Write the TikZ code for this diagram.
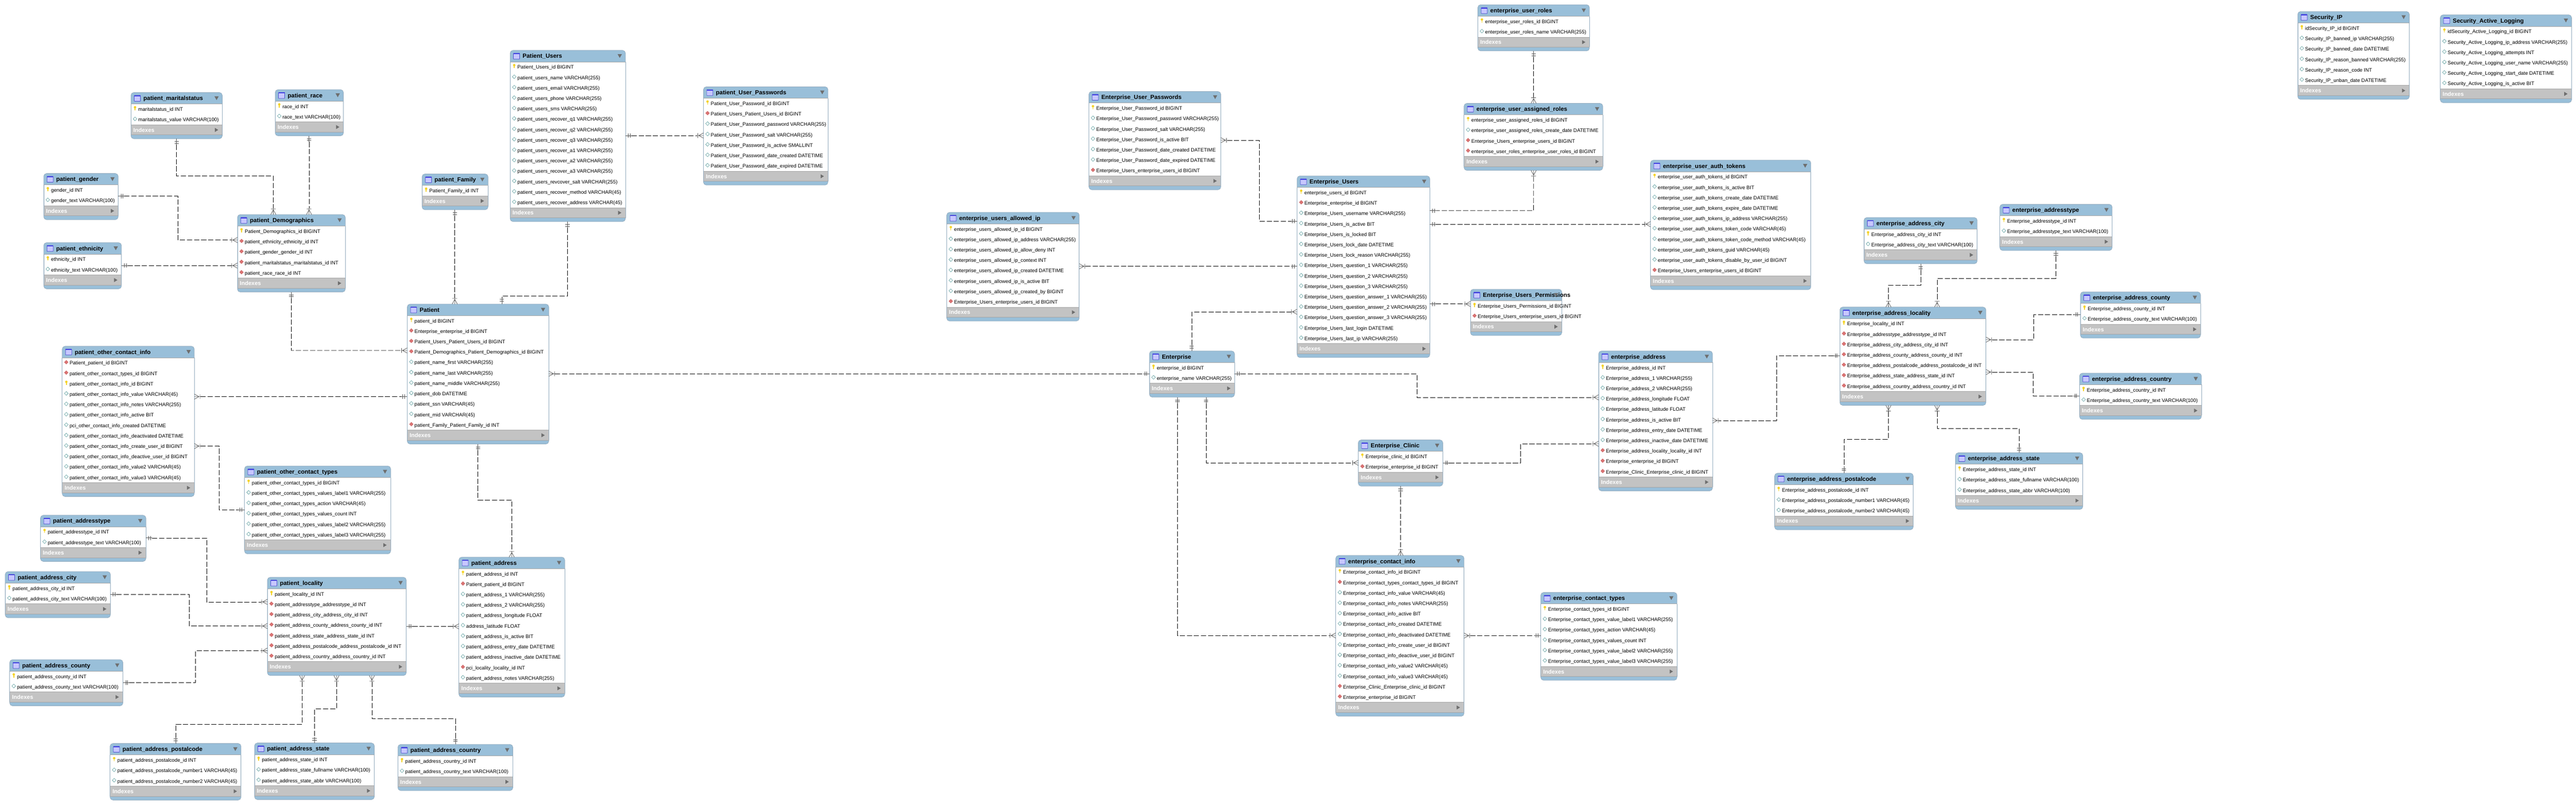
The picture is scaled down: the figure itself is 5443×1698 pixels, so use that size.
\documentclass[tikz,border=0pt]{standalone}
\usepackage{fontspec}
\setmainfont{Liberation Sans}
\catcode`\_=12
\definecolor{hdr}{HTML}{99BFD9}
\definecolor{band}{HTML}{C3C3C3}
\definecolor{rule}{HTML}{A6A6A6}
\definecolor{edge}{HTML}{93ABBE}
\definecolor{tri}{HTML}{6E6E6E}
\definecolor{keyc}{HTML}{F5D327}
\definecolor{fkf}{HTML}{DB7575}
\definecolor{fkd}{HTML}{C85A5A}
\definecolor{nnd}{HTML}{6FA9A9}
\definecolor{mk}{HTML}{555555}
\tikzset{
  tbl/.style={draw=edge,fill=hdr,rounded corners=6pt,inner sep=0pt,outer sep=0pt,line width=.8pt},
  ttl/.style={inner sep=0pt,outer sep=0pt,font=\fontsize{12.5}{14}\selectfont\bfseries,text=black},
  rowt/.style={inner sep=0pt,outer sep=0pt,font=\fontsize{10.6}{12}\selectfont,text=black},
  idxt/.style={inner sep=0pt,outer sep=0pt,font=\fontsize{12}{14}\selectfont\bfseries,text=white},
  relline/.style={draw=black,line width=.7pt,dash pattern=on 11pt off 4pt,shorten <=13pt,shorten >=13pt},
  mkline/.style={draw=mk,line width=.8pt},
  dirE/.style={x={(1pt,0pt)},y={(0pt,1pt)}},
  dirW/.style={x={(-1pt,0pt)},y={(0pt,1pt)}},
  dirN/.style={x={(0pt,1pt)},y={(1pt,0pt)}},
  dirS/.style={x={(0pt,-1pt)},y={(1pt,0pt)}},
}
% name, x0, x1, y0, number of rows, title, rows
\newcommand{\erd}[7]{%
  \pgfmathsetmacro\tablew{#3-#2}%
  \pgfmathsetmacro\tableh{53.6+22*#5}%
  \pgfmathsetmacro\ya{#4+24.3}%
  \pgfmathsetmacro\yb{\ya+22*#5}%
  \pgfmathsetmacro\yc{\yb+21.3}%
  \pgfmathsetmacro\xl{#2+.4}%
  \pgfmathsetmacro\xr{#3-.4}%
  \node[tbl,anchor=north west,minimum width=\tablew pt,minimum height=\tableh pt] (#1) at (#2,#4) {};
  \fill[white] (\xl,\ya) rectangle (\xr,\yb);
  \fill[band] (\xl,\yb) rectangle (\xr,\yc);
  \draw[rule,line width=.9pt] (\xl,\ya) -- (\xr,\ya);
  \draw[rule,line width=.9pt] (\xl,\yb) -- (\xr,\yb);
  \draw[rule,line width=.9pt] (\xl,\yc) -- (\xr,\yc);
  \draw[edge,line width=.8pt] (#2,\ya) -- (#2,\yc) (#3,\ya) -- (#3,\yc);
  % table icon
  \pgfmathsetmacro\ia{#2+7}\pgfmathsetmacro\ib{#2+20}\pgfmathsetmacro\ic{#4+6}\pgfmathsetmacro\id{#4+18.5}\pgfmathsetmacro\ie{#4+8}%
  \filldraw[fill=black!3!blue!22!white,draw=black!25!blue!70!white,line width=.8pt,rounded corners=.8pt] (\ia,\ic) rectangle (\ib,\id);
  \fill[black!15!blue!75!white] (\ia,\ic) rectangle (\ib,\ie);
  \node[ttl,anchor=base west] (#1-title) at (#2+26.4,#4+16.6) {#6};
  % collapse triangle
  \pgfmathsetmacro\ta{#3-16.5}\pgfmathsetmacro\tb{#3-7.5}\pgfmathsetmacro\tc{#3-12}\pgfmathsetmacro\td{#4+8}\pgfmathsetmacro\te{#4+16}%
  \fill[tri] (\ta,\td) -- (\tb,\td) -- (\tc,\te) -- cycle;
  % rows
  \foreach \rk/\rt [count=\ri] in {#7}{%
    \pgfmathsetmacro\rtop{#4+24.3+22*(\ri-1)}%
    \pgfmathsetmacro\rbase{\rtop+15}%
    \pgfmathsetmacro\iy{\rtop+9.4}%
    \pgfmathsetmacro\ix{#2+8.6}%
    \csname ic\rk\endcsname{\ix}{\iy}%
    \node[rowt,anchor=base west] (#1-r\ri) at (#2+15.5,\rbase) {\rt};
  }
  \node[idxt,anchor=base west] (#1-idx) at (#2+5,\yb+15.2) {Indexes};
  \pgfmathsetmacro\tf{#3-15.5}\pgfmathsetmacro\tg{#3-8.5}\pgfmathsetmacro\th{\yb+6.5}\pgfmathsetmacro\ti{\yb+15}\pgfmathsetmacro\tj{\yb+10.7}%
  \fill[tri] (\tf,\th) -- (\tg,\tj) -- (\tf,\ti) -- cycle;
}
\newcommand{\ick}[2]{%
  \begin{scope}[shift={(#1,#2)}]
    \fill[keyc] (0,-2.5) circle (2.6pt);
    \fill[keyc] (-.9,-2.5) rectangle (.9,4);
  \end{scope}}
\newcommand{\icf}[2]{%
  \begin{scope}[shift={(#1,#2)}]
    \filldraw[fill=fkf,draw=fkd,line width=.5pt] (-4,0) -- (0,-4) -- (4,0) -- (0,4) -- cycle;
  \end{scope}}
\newcommand{\icn}[2]{%
  \begin{scope}[shift={(#1,#2)}]
    \filldraw[fill=white,draw=nnd,line width=.8pt] (-4,0) -- (0,-4) -- (4,0) -- (0,4) -- cycle;
  \end{scope}}
\newcommand{\mkone}[2]{%
  \begin{scope}[shift={#1},dir#2]
    \draw[mkline] (0,0) -- (13,0) (6,-4.5) -- (6,4.5) (10,-4.5) -- (10,4.5);
  \end{scope}}
\newcommand{\mkmany}[2]{%
  \begin{scope}[shift={#1},dir#2]
    \draw[mkline] (0,0) -- (13,0) (10,0) -- (0,5.5) (10,0) -- (0,-5.5) (12,-5) -- (12,5);
  \end{scope}}
% type1, dir1, coord1, middle path, type2, dir2, coord2
\newcommand{\rel}[7]{%
  \draw[relline] #3 #4 -- #7;
  \csname mk#1\endcsname{#3}{#2}%
  \csname mk#5\endcsname{#7}{#6}}
\begin{document}
\begin{tikzpicture}[x=1pt,y=-1pt]
\useasboundingbox (0,0) rectangle (5443,1698);
\fill[white] (0,0) rectangle (5443,1698);

\erd{mar}{276.7}{469.6}{195.4}{2}{patient_maritalstatus}{k/maritalstatus_id INT,n/maritalstatus_value VARCHAR(100)}
\erd{race}{581.5}{725.6}{189.3}{2}{patient_race}{k/race_id INT,n/race_text VARCHAR(100)}
\erd{gen}{92.4}{249.7}{366.4}{2}{patient_gender}{k/gender_id INT,n/gender_text VARCHAR(100)}
\erd{eth}{92.4}{256.6}{512.5}{2}{patient_ethnicity}{k/ethnicity_id INT,n/ethnicity_text VARCHAR(100)}
\erd{demo}{501.7}{729.6}{453.2}{5}{patient_Demographics}{k/Patient_Demographics_id BIGINT,f/patient_ethnicity_ethnicity_id INT,f/patient_gender_gender_id INT,f/patient_maritalstatus_maritalstatus_id INT,f/patient_race_race_id INT}
\erd{poci}{131.5}{410.5}{731.3}{12}{patient_other_contact_info}{f/Patient_patient_id BIGINT,f/patient_other_contact_types_id BIGINT,k/patient_other_contact_info_id BIGINT,n/patient_other_contact_info_value VARCHAR(45),n/patient_other_contact_info_notes VARCHAR(255),n/patient_other_contact_info_active BIT,n/pci_other_contact_info_created DATETIME,n/patient_other_contact_info_deactivated DATETIME,n/patient_other_contact_info_create_user_id BIGINT,n/patient_other_contact_info_deactive_user_id BIGINT,n/patient_other_contact_info_value2 VARCHAR(45),n/patient_other_contact_info_value3 VARCHAR(45)}
\erd{poct}{516.7}{825.5}{984.3}{6}{patient_other_contact_types}{k/patient_other_contact_types_id BIGINT,n/patient_other_contact_types_values_label1 VARCHAR(255),n/patient_other_contact_types_action VARCHAR(45),n/patient_other_contact_types_values_count INT,n/patient_other_contact_types_values_label2 VARCHAR(255),n/patient_other_contact_types_values_label3 VARCHAR(255)}
\erd{patype}{85.5}{308.3}{1088.3}{2}{patient_addresstype}{k/patient_addresstype_id INT,n/patient_addresstype_text VARCHAR(100)}
\erd{pcity}{11}{233.3}{1207.3}{2}{patient_address_city}{k/patient_address_city_id INT,n/patient_address_city_text VARCHAR(100)}
\erd{ploc}{565}{858.4}{1219.3}{7}{patient_locality}{k/patient_locality_id INT,f/patient_addresstype_addresstype_id INT,f/patient_address_city_address_city_id INT,f/patient_address_county_address_county_id INT,f/patient_address_state_address_state_id INT,f/patient_address_postalcode_address_postalcode_id INT,f/patient_address_country_address_country_id INT}
\erd{paddr}{969.6}{1193.3}{1176.8}{11}{patient_address}{k/patient_address_id INT,f/Patient_patient_id BIGINT,n/patient_address_1 VARCHAR(255),n/patient_address_2 VARCHAR(255),n/patient_address_longitude FLOAT,n/address_latitude FLOAT,n/patient_address_is_active BIT,n/patient_address_entry_date DATETIME,n/patient_address_inactive_date DATETIME,f/pci_locality_locality_id INT,n/patient_address_notes VARCHAR(255)}
\erd{pcounty}{20.5}{259.7}{1393.3}{2}{patient_address_county}{k/patient_address_county_id INT,n/patient_address_county_text VARCHAR(100)}
\erd{ppost}{232.6}{509.2}{1570.3}{3}{patient_address_postalcode}{k/patient_address_postalcode_id INT,n/patient_address_postalcode_number1 VARCHAR(45),n/patient_address_postalcode_number2 VARCHAR(45)}
\erd{pstate}{537.8}{790.9}{1569.3}{3}{patient_address_state}{k/patient_address_state_id INT,n/patient_address_state_fullname VARCHAR(100),n/patient_address_state_abbr VARCHAR(100)}
\erd{pcountry}{840.8}{1083.6}{1572.3}{2}{patient_address_country}{k/patient_address_country_id INT,n/patient_address_country_text VARCHAR(100)}
\erd{pusers}{1077.9}{1321.5}{106.4}{14}{Patient_Users}{k/Patient_Users_id BIGINT,n/patient_users_name VARCHAR(255),n/patient_users_email VARCHAR(255),n/patient_users_phone VARCHAR(255),n/patient_users_sms VARCHAR(255),n/patient_users_recover_q1 VARCHAR(255),n/patient_users_recover_q2 VARCHAR(255),n/patient_users_recover_q3 VARCHAR(255),n/patient_users_recover_a1 VARCHAR(255),n/patient_users_recover_a2 VARCHAR(255),n/patient_users_recover_a3 VARCHAR(255),n/patient_users_revcover_salt VARCHAR(255),n/patient_users_recover_method VARCHAR(45),n/patient_users_recover_address VARCHAR(45)}
\erd{ppass}{1486.4}{1749.4}{183.3}{7}{patient_User_Passwords}{k/Patient_User_Password_id BIGINT,f/Patient_Users_Patient_Users_id BIGINT,n/Patient_User_Password_password VARCHAR(255),n/Patient_User_Password_salt VARCHAR(255),n/Patient_User_Password_is_active SMALLINT,n/Patient_User_Password_date_created DATETIME,n/Patient_User_Password_date_expired DATETIME}
\erd{pfam}{891.8}{1031.2}{367.4}{1}{patient_Family}{k/Patient_Family_id INT}
\erd{pat}{860.5}{1159.5}{642.3}{11}{Patient}{k/patient_id BIGINT,f/Enterprise_enterprise_id BIGINT,f/Patient_Users_Patient_Users_id BIGINT,f/Patient_Demographics_Patient_Demographics_id BIGINT,n/patient_name_first VARCHAR(255),n/patient_name_last VARCHAR(255),n/patient_name_middle VARCHAR(255),n/patient_dob DATETIME,n/patient_ssn VARCHAR(45),n/patient_mid VARCHAR(45),f/patient_Family_Patient_Family_id INT}

\erd{epass}{2300.8}{2579.5}{193.2}{7}{Enterprise_User_Passwords}{k/Enterprise_User_Password_id BIGINT,n/Enterprise_User_Password_password VARCHAR(255),n/Enterprise_User_Password_salt VARCHAR(255),n/Enterprise_User_Password_is_active BIT,n/Enterprise_User_Password_date_created DATETIME,n/Enterprise_User_Password_date_expired DATETIME,f/Enterprise_Users_enterprise_users_id BIGINT}
\erd{eip}{2000.4}{2280.4}{448.5}{8}{enterprise_users_allowed_ip}{k/enterprise_users_allowed_ip_id BIGINT,n/enterprise_users_allowed_ip_address VARCHAR(255),n/enterprise_users_allowed_ip_allow_deny INT,n/enterprise_users_allowed_ip_context INT,n/enterprise_users_allowed_ip_created DATETIME,n/enterprise_users_allowed_ip_is_active BIT,n/enterprise_users_allowed_ip_created_by BIGINT,f/Enterprise_Users_enterprise_users_id BIGINT}
\erd{eusers}{2740.7}{3021.2}{371.6}{15}{Enterprise_Users}{k/enterprise_users_id BIGINT,f/Enterprise_enterprise_id BIGINT,n/Enterprise_Users_username VARCHAR(255),n/Enterprise_Users_is_active BIT,n/Enterprise_Users_is_locked BIT,n/Enterprise_Users_lock_date DATETIME,n/Enterprise_Users_lock_reason VARCHAR(255),n/Enterprise_Users_question_1 VARCHAR(255),n/Enterprise_Users_question_2 VARCHAR(255),n/Enterprise_Users_question_3 VARCHAR(255),n/Enterprise_Users_question_answer_1 VARCHAR(255),n/Enterprise_Users_question_answer_2 VARCHAR(255),n/Enterprise_Users_question_answer_3 VARCHAR(255),n/Enterprise_Users_last_login DATETIME,n/Enterprise_Users_last_ip VARCHAR(255)}
\erd{ent}{2428.7}{2608.5}{741.3}{2}{Enterprise}{k/enterprise_id BIGINT,n/enterprise_name VARCHAR(255)}
\erd{eclin}{2870}{3048.6}{929.2}{2}{Enterprise_Clinic}{k/Enterprise_clinic_id BIGINT,f/Enterprise_enterprise_id BIGINT}
\erd{eci}{2822.4}{3093.4}{1173.3}{13}{enterprise_contact_info}{k/Enterprise_contact_info_id BIGINT,f/Enterprise_contact_types_contact_types_id BIGINT,n/Enterprise_contact_info_value VARCHAR(45),n/Enterprise_contact_info_notes VARCHAR(255),n/Enterprise_contact_info_active BIT,n/Enterprise_contact_info_created DATETIME,n/Enterprise_contact_info_deactivated DATETIME,n/Enterprise_contact_info_create_user_id BIGINT,n/Enterprise_contact_info_deactive_user_id BIGINT,n/Enterprise_contact_info_value2 VARCHAR(45),n/Enterprise_contact_info_value3 VARCHAR(45),f/Enterprise_Clinic_Enterprise_clinic_id BIGINT,f/Enterprise_enterprise_id BIGINT}
\erd{ect}{3255.6}{3543.4}{1251.3}{6}{enterprise_contact_types}{k/Enterprise_contact_types_id BIGINT,n/Enterprise_contact_types_value_label1 VARCHAR(255),n/Enterprise_contact_types_action VARCHAR(45),n/Enterprise_contact_types_values_count INT,n/Enterprise_contact_types_value_label2 VARCHAR(255),n/Enterprise_contact_types_value_label3 VARCHAR(255)}
\erd{eaddr}{3377.8}{3618.4}{741.3}{11}{enterprise_address}{k/Enterprise_address_id INT,n/Enterprise_address_1 VARCHAR(255),n/Enterprise_address_2 VARCHAR(255),n/Enterprise_address_longitude FLOAT,n/Enterprise_address_latitude FLOAT,n/Enterprise_address_is_active BIT,n/Enterprise_address_entry_date DATETIME,n/Enterprise_address_inactive_date DATETIME,f/Enterprise_address_locality_locality_id INT,f/Enterprise_enterprise_id BIGINT,f/Enterprise_Clinic_Enterprise_clinic_id BIGINT}
\erd{eroles}{3122.6}{3358.4}{10}{2}{enterprise_user_roles}{k/enterprise_user_roles_id BIGINT,n/enterprise_user_roles_name VARCHAR(255)}
\erd{eassign}{3093.4}{3386.6}{218.3}{4}{enterprise_user_assigned_roles}{k/enterprise_user_assigned_roles_id BIGINT,n/enterprise_user_assigned_roles_create_date DATETIME,f/Enterprise_Users_enterprise_users_id BIGINT,f/enterprise_user_roles_enterprise_user_roles_id BIGINT}
\erd{etok}{3487.4}{3826.2}{338.3}{10}{enterprise_user_auth_tokens}{k/enterprise_user_auth_tokens_id BIGINT,n/enterprise_user_auth_tokens_is_active BIT,n/enterprise_user_auth_tokens_create_date DATETIME,n/enterprise_user_auth_tokens_expire_date DATETIME,n/enterprise_user_auth_tokens_ip_address VARCHAR(255),n/enterprise_user_auth_tokens_token_code VARCHAR(45),n/enterprise_user_auth_tokens_token_code_method VARCHAR(45),n/enterprise_user_auth_tokens_guid VARCHAR(45),n/enterprise_user_auth_tokens_disable_by_user_id BIGINT,f/Enterprise_Users_enterprise_users_id BIGINT}
\erd{eperm}{3107}{3300}{611}{2}{Enterprise_Users_Permissions}{k/Enterprise_Users_Permissions_id BIGINT,f/Enterprise_Users_enterprise_users_id BIGINT}
\erd{ecity}{3938.5}{4177.7}{459.5}{2}{enterprise_address_city}{k/Enterprise_address_city_id INT,n/Enterprise_address_city_text VARCHAR(100)}
\erd{eatype}{4225.5}{4462.8}{431.5}{2}{enterprise_addresstype}{k/Enterprise_addresstype_id INT,n/Enterprise_addresstype_text VARCHAR(100)}
\erd{eloc}{3887.5}{4196.2}{648.6}{7}{enterprise_address_locality}{k/Enterprise_locality_id INT,f/Enterprise_addresstype_addresstype_id INT,f/Enterprise_address_city_address_city_id INT,f/Enterprise_address_county_address_county_id INT,f/Enterprise_address_postalcode_address_postalcode_id INT,f/Enterprise_address_state_address_state_id INT,f/Enterprise_address_country_address_country_id INT}
\erd{ecounty}{4395.8}{4649.6}{616.5}{2}{enterprise_address_county}{k/Enterprise_address_county_id INT,n/Enterprise_address_county_text VARCHAR(100)}
\erd{ecountry}{4393.9}{4651.5}{788.2}{2}{enterprise_address_country}{k/Enterprise_address_country_id INT,n/Enterprise_address_country_text VARCHAR(100)}
\erd{estate}{4131.8}{4400.9}{956.3}{3}{enterprise_address_state}{k/Enterprise_address_state_id INT,n/Enterprise_address_state_fullname VARCHAR(100),n/Enterprise_address_state_abbr VARCHAR(100)}
\erd{epost}{3749.7}{4042.5}{999.4}{3}{enterprise_address_postalcode}{k/Enterprise_address_postalcode_id INT,n/Enterprise_address_postalcode_number1 VARCHAR(45),n/Enterprise_address_postalcode_number2 VARCHAR(45)}
\erd{secip}{4855}{5090.8}{24.3}{6}{Security_IP}{k/idSecurity_IP_id BIGINT,n/Security_IP_banned_ip VARCHAR(255),n/Security_IP_banned_date DATETIME,n/Security_IP_reason_banned VARCHAR(255),n/Security_IP_reason_code INT,n/Security_IP_unban_date DATETIME}
\erd{seclog}{5156.2}{5433.6}{31.3}{6}{Security_Active_Logging}{k/idSecurity_Active_Logging_id BIGINT,n/Security_Active_Logging_ip_address VARCHAR(255),n/Security_Active_Logging_attempts INT,n/Security_Active_Logging_user_name VARCHAR(255),n/Security_Active_Logging_start_date DATETIME,n/Security_Active_Logging_is_active BIT}

% patient side
\rel{one}{S}{(373,0 |- mar.south)}{-- (373,372) -- (577.5,372)}{many}{N}{(577.5,0 |- demo.north)}
\rel{one}{S}{(653,0 |- race.south)}{}{many}{N}{(653,0 |- demo.north)}
\rel{one}{E}{(gen.east |- 0,414.3)}{-- (375.4,414.3) -- (375.4,507)}{many}{W}{(demo.west |- 0,507)}
\rel{one}{E}{(eth.east |- 0,561)}{}{many}{W}{(demo.west |- 0,561)}
\rel{one}{S}{(demo.south)}{-- (615.6,740.3)}{many}{W}{(pat.west |- 0,740.3)}
\rel{many}{E}{(poci.east |- 0,837.8)}{}{one}{W}{(pat.west |- 0,837.8)}
\rel{many}{E}{(poci.east |- 0,942.3)}{-- (463.3,942.3) -- (463.3,1076.7)}{one}{W}{(poct.west |- 0,1076.7)}
\rel{one}{E}{(patype.east |- 0,1136.3)}{-- (436.4,1136.3) -- (436.4,1271.3)}{many}{W}{(ploc.west |- 0,1271.3)}
\rel{one}{E}{(pcity.east |- 0,1255.3)}{-- (399.9,1255.3) -- (399.9,1322.3)}{many}{W}{(ploc.west |- 0,1322.3)}
\rel{one}{E}{(pcounty.east |- 0,1441.7)}{-- (413,1441.7) -- (413,1374.3)}{many}{W}{(ploc.west |- 0,1374.3)}
\rel{one}{E}{(ploc.east |- 0,1323)}{}{many}{W}{(paddr.west |- 0,1323)}
\rel{many}{S}{(638.3,0 |- ploc.south)}{-- (638.3,1529.3) -- (371.2,1529.3)}{one}{N}{(371.2,0 |- ppost.north)}
\rel{many}{S}{(711,0 |- ploc.south)}{-- (711,1497.3) -- (664.7,1497.3)}{one}{N}{(664.7,0 |- pstate.north)}
\rel{many}{S}{(785.8,0 |- ploc.south)}{-- (785.8,1518.3) -- (962.6,1518.3)}{one}{N}{(962.6,0 |- pcountry.north)}
\rel{one}{E}{(pusers.east |- 0,286.3)}{}{many}{W}{(ppass.west |- 0,286.3)}
\rel{one}{S}{(960.9,0 |- pfam.south)}{}{many}{N}{(960.9,0 |- pat.north)}
\rel{one}{S}{(1199,0 |- pusers.south)}{-- (1199,625.3) -- (1060.3,625.3)}{one}{N}{(1060.3,0 |- pat.north)}
\rel{one}{S}{(pat.south)}{-- (1010,1056.3) -- (1081.3,1056.3)}{many}{N}{(1081.3,0 |- paddr.north)}
\rel{many}{E}{(pat.east |- 0,789.4)}{}{one}{W}{(ent.west |- 0,789.4)}
% enterprise side
\rel{many}{E}{(epass.east |- 0,296.2)}{-- (2660.5,296.2) -- (2660.5,467.3)}{one}{W}{(eusers.west |- 0,467.3)}
\rel{many}{E}{(eip.east |- 0,562.5)}{}{one}{W}{(eusers.west |- 0,562.5)}
\rel{one}{N}{(2518.2,0 |- ent.north)}{-- (2518.2,658.6)}{many}{W}{(eusers.west |- 0,658.6)}
\rel{one}{E}{(ent.east |- 0,789.6)}{-- (2993.8,789.6) -- (2993.8,839.3)}{many}{W}{(eaddr.west |- 0,839.3)}
\rel{one}{S}{(2548.6,0 |- ent.south)}{-- (2548.6,977.5)}{many}{W}{(eclin.west |- 0,977.5)}
\rel{one}{E}{(eclin.east |- 0,977.5)}{-- (3213.1,977.5) -- (3213.1,937.3)}{many}{W}{(eaddr.west |- 0,937.3)}
\rel{one}{S}{(eclin.south)}{}{many}{N}{(eci.north -| eclin.south)}
\rel{one}{S}{(2488,0 |- ent.south)}{-- (2488,1342.3)}{many}{W}{(eci.west |- 0,1342.3)}
\rel{many}{E}{(eci.east |- 0,1342.6)}{}{one}{W}{(ect.west |- 0,1342.6)}
\rel{one}{S}{(eroles.south)}{}{many}{N}{(eassign.north -| eroles.south)}
\rel{many}{S}{(eassign.south -| eroles.south)}{-- (3240.2,445)}{one}{E}{(eusers.east |- 0,445)}
\rel{one}{E}{(eusers.east |- 0,473.5)}{}{many}{W}{(etok.west |- 0,473.5)}
\rel{one}{E}{(eusers.east |- 0,642)}{}{many}{W}{(eperm.west |- 0,642)}
\rel{one}{W}{(eloc.west |- 0,751)}{-- (3753.6,751) -- (3753.6,888.3)}{many}{E}{(eaddr.east |- 0,888.3)}
\rel{one}{S}{(4058.4,0 |- ecity.south)}{-- (4058.4,602.3) -- (3990.2,602.3)}{many}{N}{(3990.2,0 |- eloc.north)}
\rel{one}{S}{(4344.1,0 |- eatype.south)}{-- (4344.1,588) -- (4093,588)}{many}{N}{(4093,0 |- eloc.north)}
\rel{many}{E}{(eloc.east |- 0,717.5)}{-- (4296.9,717.5) -- (4296.9,664.3)}{one}{W}{(ecounty.west |- 0,664.3)}
\rel{many}{E}{(eloc.east |- 0,785.9)}{-- (4295.7,785.9) -- (4295.7,836.4)}{one}{W}{(ecountry.west |- 0,836.4)}
\rel{many}{S}{(3990.2,0 |- eloc.south)}{-- (3990.2,927.3) -- (3896.4,927.3)}{one}{N}{(3896.4,0 |- epost.north)}
\rel{many}{S}{(4093,0 |- eloc.south)}{-- (4093,905.3) -- (4266.3,905.3)}{one}{N}{(4266.3,0 |- estate.north)}
\end{tikzpicture}
\end{document}
